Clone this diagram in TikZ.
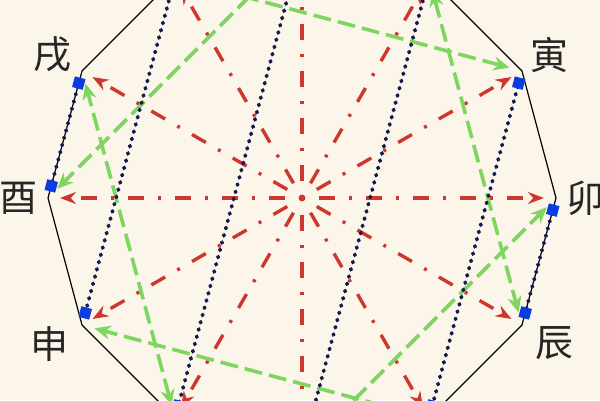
\documentclass[tikz,border=0pt]{standalone}
\usepackage{tikz}
\usepackage{xcolor}
\usepackage{fontspec}
\usetikzlibrary{arrows.meta}
\newfontfamily\cjk{Noto Sans CJK SC}
\definecolor{paperCream}{RGB}{252, 246, 234}
\definecolor{branchRed}{RGB}{205, 55, 45}
\definecolor{branchGreen}{RGB}{125, 215, 95}
\definecolor{branchNavy}{RGB}{20, 25, 80}
\definecolor{branchBlue}{RGB}{10, 60, 225}

\begin{document}
\begin{tikzpicture}[x=1pt, y=1pt]
    \tikzstyle{rim} = [draw=black, line width=1.2pt, line join=miter]
    \tikzstyle{ray} = [draw=branchRed, line width=3.4pt, dash pattern=on 3pt off 14pt on 16pt off 14pt, -{Stealth[length=16pt,width=12pt]}, shorten >=12pt]
    \tikzstyle{split} = [draw=branchGreen, line width=3.6pt, dash pattern=on 18pt off 7pt, {Stealth[length=16pt,width=14pt]}-{Stealth[length=16pt,width=14pt]}, shorten >=13pt, shorten <=13pt]
    \tikzstyle{harm} = [draw=branchNavy, line width=3.8pt, dash pattern=on 1pt off 6.5pt, line cap=round, {Square[color=branchBlue,length=11pt,width=11pt]}-{Square[color=branchBlue,length=11pt,width=11pt]}, shorten >=7pt, shorten <=7pt]
    \tikzstyle{branch} = [font=\cjk\fontsize{38}{38}\selectfont, text=black!85, inner sep=0pt]

    \fill[paperCream] (-302,-202) rectangle (298,198);
    \useasboundingbox (-302,-202) rectangle (298,198);

    % twelve branches on the rim
    \coordinate (hub) at (0,0);
    \foreach \name [count=\i from 0] in {mao,yin,chou,zi,hai,xu,you,shen,wei,wu,si,chen}
        \coordinate (\name) at (\i*30:254);
    \draw[rim] (mao) -- (yin) -- (chou) -- (zi) -- (hai) -- (xu) -- (you) -- (shen) -- (wei) -- (wu) -- (si) -- (chen) -- cycle;

    % rays from the hub
    \foreach \name in {mao,yin,chou,zi,hai,xu,you,shen,wei,wu,si,chen}
        \draw[ray] (hub) -- (\name);

    % green pairs
    \draw[split] (zi) -- (you);
    \draw[split] (wu) -- (mao);
    \draw[split] (chou) -- (chen);
    \draw[split] (wei) -- (xu);
    \draw[split] (yin) -- (hai);
    \draw[split] (si) -- (shen);

    % blue pairs
    \draw[harm] (zi) -- (wei);
    \draw[harm] (chou) -- (wu);
    \draw[harm] (yin) -- (si);
    \draw[harm] (mao) -- (chen);
    \draw[harm] (hai) -- (shen);
    \draw[harm] (xu) -- (you);

    \node[branch] (xuLabel) at (150:288) {戌};
    \node[branch] (yinLabel) at (30:286) {寅};
    \node[branch] (youLabel) at (180:283) {酉};
    \node[branch] (maoLabel) at (0:283) {卯};
    \node[branch] (shenLabel) at (210:292) {申};
    \node[branch] (chenLabel) at (330:291) {辰};
\end{tikzpicture}
\end{document}
